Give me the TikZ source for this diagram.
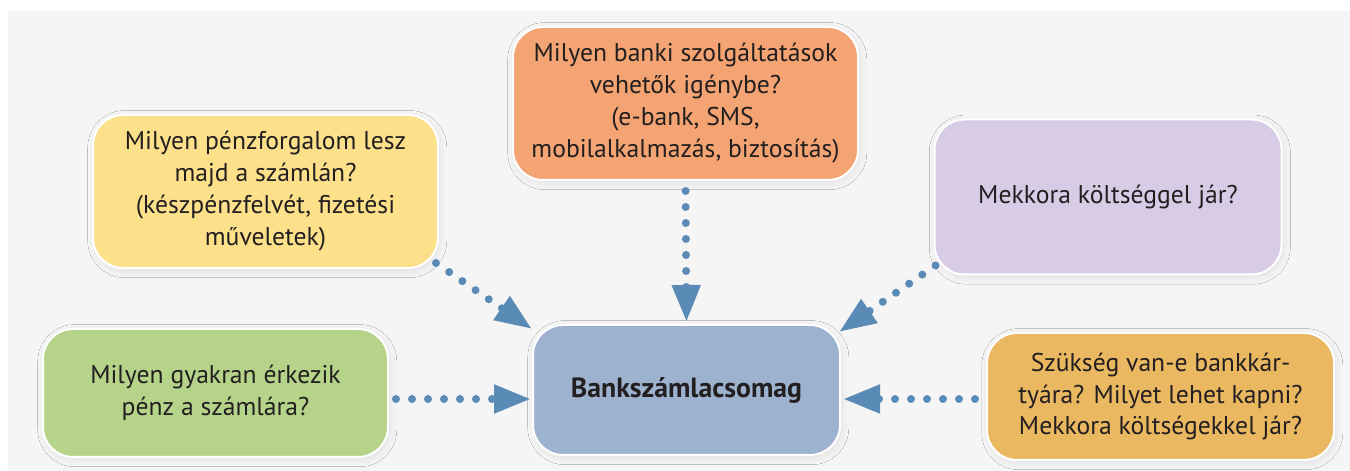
\documentclass[tikz,border=0pt]{standalone}
\usepackage{fontspec}
\setmainfont{PT Sans}
\usepackage{tikz}
\usetikzlibrary{arrows.meta,positioning,shadows.blur}
\definecolor{figPanel}{HTML}{F5F5F5}
\definecolor{figText}{HTML}{231F20}
\definecolor{figArrow}{HTML}{5A8AB6}
\definecolor{figOrange}{HTML}{F4A372}
\definecolor{figYellow}{HTML}{FCE08A}
\definecolor{figLilac}{HTML}{D8CBE5}
\definecolor{figGreen}{HTML}{B5D48A}
\definecolor{figBlue}{HTML}{9DB2CF}
\definecolor{figGold}{HTML}{EAB861}

\begin{document}
\begin{tikzpicture}[
  font=\fontsize{14.6}{18.2}\selectfont,
  qbox/.style={draw=white,line width=0.04cm,rounded corners=0.6cm,
               minimum width=6.9cm,minimum height=3.06cm,align=center,text=figText,
               blur shadow={shadow blur steps=8,shadow xshift=1pt,shadow yshift=-1.5pt,
                            shadow blur radius=4pt,shadow opacity=9}},
  lowbox/.style={qbox,minimum height=2.56cm},
  flow/.style={figArrow,line width=0.16cm,line cap=round,dash pattern=on 0pt off 0.32cm,
               -{Triangle[length=0.74cm,width=0.54cm]}}
]
\useasboundingbox (0,0) rectangle (27,9.42);
\fill[white] (0,0) rectangle (27,9.42);
\fill[figPanel] (0.16,0) rectangle (27,9.2);

% centre
\node[qbox,fill=figBlue,minimum width=6.14cm,minimum height=2.6cm,font=\fontsize{15.8}{18.2}\selectfont\bfseries]
  (pkg) at (13.73,1.62) {Bankszámlacsomag};

% questions round it
\node[qbox,fill=figOrange] (serv) at (13.71,7.35)
  {Milyen banki szolgáltatások\\vehetők igénybe?\\(e-bank, SMS,\\mobilalkalmazás, biztosítás)};
\node[qbox,fill=figYellow] (turn) at (5.31,5.59)
  {Milyen pénzforgalom lesz\\majd a számlán?\\(készpénzfelvét, fizetési\\műveletek)};
\node[qbox,fill=figLilac,minimum width=6.94cm,minimum height=3.1cm] (cost) at (22.16,5.48)
  {Mekkora költséggel jár?};
\node[lowbox,fill=figGreen] (freq) at (4.31,1.56)
  {Milyen gyakran érkezik\\pénz a számlára?};
\node[lowbox,fill=figGold,minimum width=6.94cm,minimum height=2.54cm] (card) at (23.21,1.49)
  {Szükség van-e bankkár-\\tyára? Milyet lehet kapni?\\Mekkora költségekkel jár?};

\draw[flow,shorten <=0.2cm,shorten >=0.04cm] (serv.south) -- (pkg.north);
\draw[flow] ([shift={(-0.06,0.12)}]turn.south east) -- ([shift={(0,-0.1)}]pkg.north west);
\draw[flow] ([shift={(0.04,0.2)}]cost.south west) -- ([shift={(-0.04,-0.16)}]pkg.north east);
\draw[flow,shorten <=0.14cm,shorten >=0.02cm]
  ([yshift=-1.2mm]freq.east) -- ([yshift=-1.2mm]freq.east -| pkg.west);
\draw[flow,shorten <=0.22cm,shorten >=0.04cm]
  ([yshift=-0.5mm]card.west) -- ([yshift=-0.5mm]card.west -| pkg.east);
\end{tikzpicture}
\end{document}
